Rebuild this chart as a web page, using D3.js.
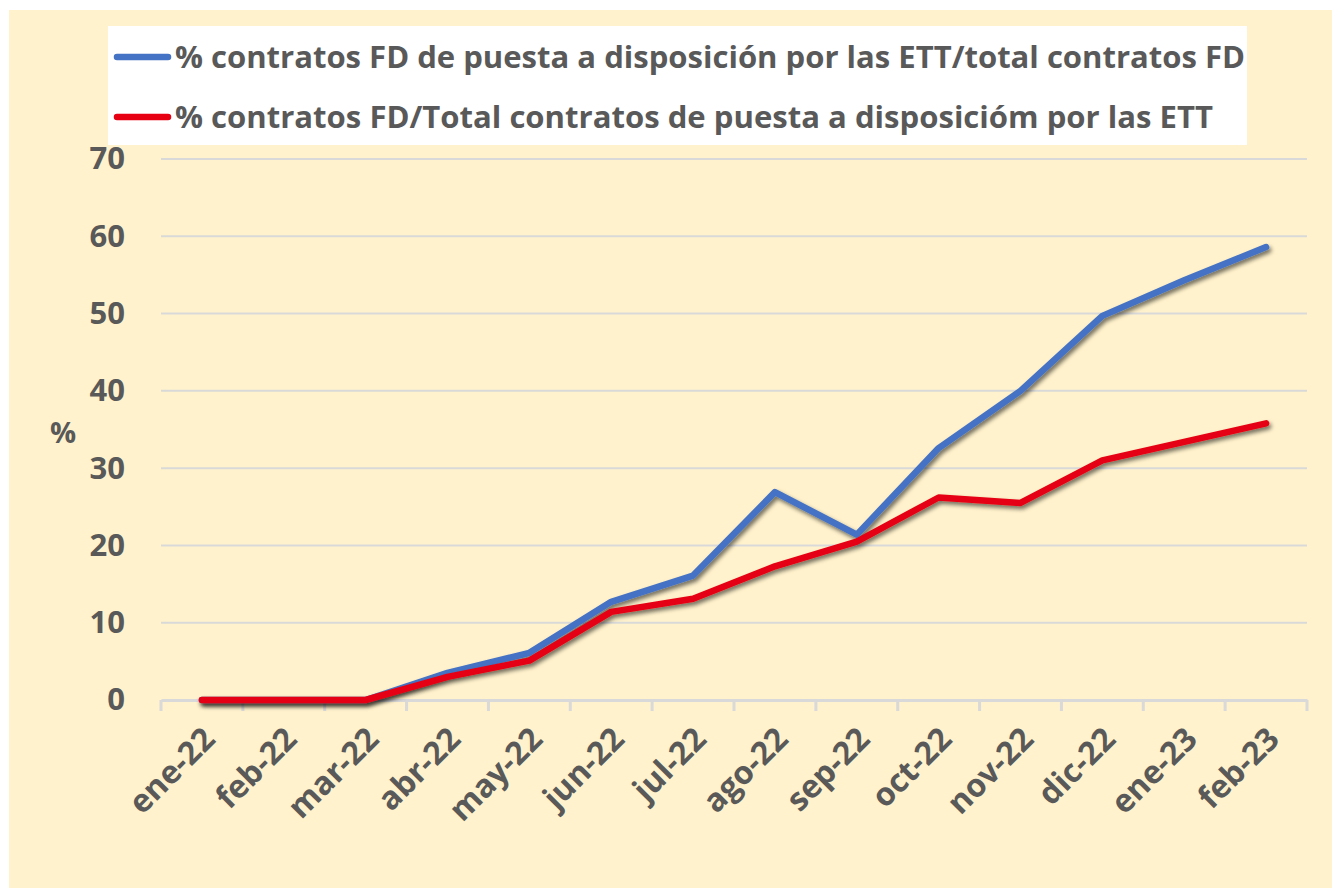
<!DOCTYPE html>
<meta charset="utf-8">
<script src="https://d3js.org/d3.v7.min.js"></script>
<style>
  body { margin: 0; background: #fff; }
  text { font-family: "Open Sans", "Noto Sans", sans-serif; font-weight: bold; fill: #595959; }
</style>
<div id="chart"></div>
<script>
// categories and values
var months = ["ene-22","feb-22","mar-22","abr-22","may-22","jun-22","jul-22",
              "ago-22","sep-22","oct-22","nov-22","dic-22","ene-23","feb-23"];
var ettShare = [0, 0, 0, 3.5, 6.1, 12.7, 16.1, 26.9, 21.4, 32.6, 40.0, 49.7, 54.3, 58.6];
var fdShare  = [0, 0, 0, 3.0, 5.1, 11.4, 13.1, 17.3, 20.5, 26.2, 25.5, 31.0, 33.4, 35.8];
var yTicks = [0, 10, 20, 30, 40, 50, 60, 70];
var legendLabels = [
  "% contratos FD de puesta a disposición por las ETT/total contratos FD",
  "% contratos FD/Total contratos de puesta a disposicióm por las ETT"
];
var colors = ["#4472C4", "#E60012"];

var W = 1332, H = 888;
var margin = {top: 159, right: 25, bottom: 188, left: 161},
  width = W - margin.left - margin.right,
  height = H - margin.top - margin.bottom;

var svg = d3.select("#chart")
.append("svg")
  .attr("width", W)
  .attr("height", H);

// drop shadow for the lines
var defs = svg.append("defs");
var f = defs.append("filter").attr("id", "shadow")
  .attr("x", "-5%").attr("y", "-5%").attr("width", "110%").attr("height", "115%");
f.append("feDropShadow")
  .attr("dx", 2).attr("dy", 3).attr("stdDeviation", 2.2)
  .attr("flood-color", "#000").attr("flood-opacity", 0.55);

// chart background
svg.append("rect")
  .attr("x", 9).attr("y", 10)
  .attr("width", W - 9).attr("height", H - 10)
  .attr("fill", "#FFF2CC");

var g = svg.append("g")
  .attr("transform", "translate(" + margin.left + "," + margin.top + ")");

var x = d3.scaleBand()
  .domain(months)
  .range([0, width]);

var y = d3.scaleLinear()
  .domain([0, 70])
  .range([height, 0]);

// gridlines
g.selectAll(".grid")
  .data(yTicks.filter(function(d) { return d > 0; }))
  .enter()
  .append("line")
    .attr("x1", 0).attr("x2", width)
    .attr("y1", function(d) { return y(d); })
    .attr("y2", function(d) { return y(d); })
    .attr("stroke", "#D9D9D9")
    .attr("stroke-width", 2);

// y axis labels
var yAxis = g.append("g")
  .call(d3.axisLeft(y).tickValues(yTicks).tickSize(0).tickPadding(36));
yAxis.select(".domain").remove();
yAxis.selectAll("text")
  .style("font-size", "31px")
  .attr("fill", "#595959");

// x axis
var xAxis = g.append("g")
  .attr("transform", "translate(0," + height + ")")
  .call(d3.axisBottom(x).tickSize(0).tickPadding(0));
xAxis.select(".domain").attr("stroke", "#D9D9D9").attr("stroke-width", 3);
xAxis.selectAll(".tick text")
  .style("font-size", "32px")
  .attr("text-anchor", "end")
  .attr("dy", 0)
  .attr("transform", "translate(15,41) rotate(-45)");

// tick marks on category boundaries
g.selectAll(".xtick")
  .data(d3.range(months.length + 1))
  .enter()
  .append("line")
    .attr("x1", function(i) { return i * x.step(); })
    .attr("x2", function(i) { return i * x.step(); })
    .attr("y1", height)
    .attr("y2", height + 11)
    .attr("stroke", "#D9D9D9")
    .attr("stroke-width", 3);

// y axis title
svg.append("text")
  .attr("x", 63).attr("y", 443)
  .attr("text-anchor", "middle")
  .style("font-size", "29px")
  .text("%");

// lines
var line = d3.line()
  .x(function(d, i) { return x(months[i]) + x.bandwidth() / 2; })
  .y(function(d) { return y(d); });

[ettShare, fdShare].forEach(function(series, k) {
  g.append("path")
    .datum(series)
    .attr("fill", "none")
    .attr("stroke", colors[k])
    .attr("stroke-width", 6.5)
    .attr("stroke-linecap", "round")
    .attr("stroke-linejoin", "round")
    .attr("filter", "url(#shadow)")
    .attr("d", line);
});

// legend
svg.append("rect")
  .attr("x", 108).attr("y", 26)
  .attr("width", 1139).attr("height", 119)
  .attr("fill", "#fff");

var legend = svg.selectAll(".legend")
  .data(legendLabels)
  .enter()
  .append("g")
    .attr("transform", function(d, i) { return "translate(0," + (57 + i * 60) + ")"; });

legend.append("line")
  .attr("x1", 117).attr("x2", 168)
  .attr("stroke", function(d, i) { return colors[i]; })
  .attr("stroke-width", 6.5)
  .attr("stroke-linecap", "round");

legend.append("text")
  .attr("x", 175)
  .attr("y", 11)
  .style("font-size", "30px")
  .attr("textLength", function(d, i) { return i === 0 ? 1070 : 1038; })
  .attr("lengthAdjust", "spacingAndGlyphs")
  .text(function(d) { return d; });
</script>
